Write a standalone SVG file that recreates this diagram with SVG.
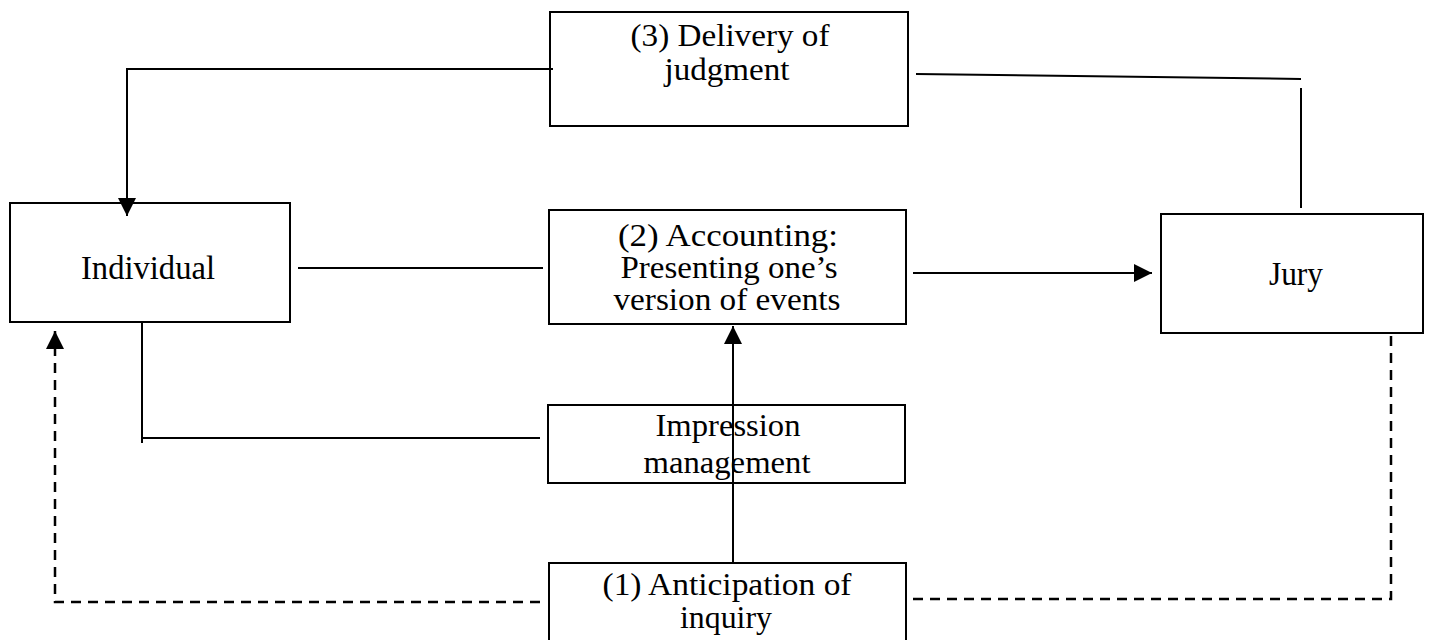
<svg xmlns="http://www.w3.org/2000/svg" width="1432" height="640" viewBox="0 0 1432 640">
<style>
.box{fill:#fff;stroke:#000;stroke-width:2}
.t{font-family:"Liberation Serif","Times New Roman",serif;font-size:31px;fill:#000;text-anchor:middle}
.big{font-size:33px}
.ln{fill:none;stroke:#000;stroke-width:2}
.dash{fill:none;stroke:#000;stroke-width:2.5;stroke-dasharray:10 7}
</style>
<defs>
<marker id="ah" markerUnits="userSpaceOnUse" markerWidth="18" markerHeight="18" refX="18" refY="9" orient="auto">
<path d="M0,0 L18,9 L0,18 z" fill="#000"/>
</marker>
</defs>
<rect width="1432" height="640" fill="#fff"/>
<g id="delivery">
<rect class="box" x="550" y="12" width="358" height="114"/>
<text class="t" x="730" y="46" textLength="199" lengthAdjust="spacingAndGlyphs">(3) Delivery of</text>
<text class="t" x="727" y="80" textLength="125" lengthAdjust="spacingAndGlyphs">judgment</text>
</g>
<g id="individual">
<rect class="box" x="10" y="203" width="280" height="119"/>
<text class="t big" x="148" y="279" textLength="134" lengthAdjust="spacingAndGlyphs">Individual</text>
</g>
<g id="accounting">
<rect class="box" x="549" y="210" width="357" height="114"/>
<text class="t" x="728" y="246" textLength="220" lengthAdjust="spacingAndGlyphs">(2) Accounting:</text>
<text class="t" x="729" y="278" textLength="217" lengthAdjust="spacingAndGlyphs">Presenting one’s</text>
<text class="t" x="727" y="310" textLength="227" lengthAdjust="spacingAndGlyphs">version of events</text>
</g>
<g id="jury">
<rect class="box" x="1161" y="214" width="262" height="119"/>
<text class="t big" x="1296" y="285" textLength="54" lengthAdjust="spacingAndGlyphs">Jury</text>
</g>
<g id="impression">
<rect class="box" x="548" y="405" width="357" height="78"/>
<text class="t" x="728" y="436" textLength="145" lengthAdjust="spacingAndGlyphs">Impression</text>
<text class="t" x="727" y="473" textLength="167" lengthAdjust="spacingAndGlyphs">management</text>
</g>
<g id="anticipation">
<rect class="box" x="549" y="563" width="357" height="100"/>
<text class="t" x="727" y="595" textLength="249" lengthAdjust="spacingAndGlyphs">(1) Anticipation of</text>
<text class="t" x="726" y="628" textLength="92" lengthAdjust="spacingAndGlyphs">inquiry</text>
</g>
<g id="connectors">
<path class="ln" d="M553 69 H127 V216" marker-end="url(#ah)"/>
<path class="ln" d="M916 74 L1301 79"/>
<path class="ln" d="M1301 88 V208"/>
<path class="ln" d="M298 268 H543"/>
<path class="ln" d="M913 273 H1152" marker-end="url(#ah)"/>
<path class="ln" d="M142 322 V443"/>
<path class="ln" d="M142 438 H540"/>
<path class="ln" d="M733 563 V326" marker-end="url(#ah)"/>
<path class="dash" d="M540 602 H55 V331" marker-end="url(#ah)"/>
<path class="dash" d="M913 599 H1391 V334"/>
</g>
</svg>
